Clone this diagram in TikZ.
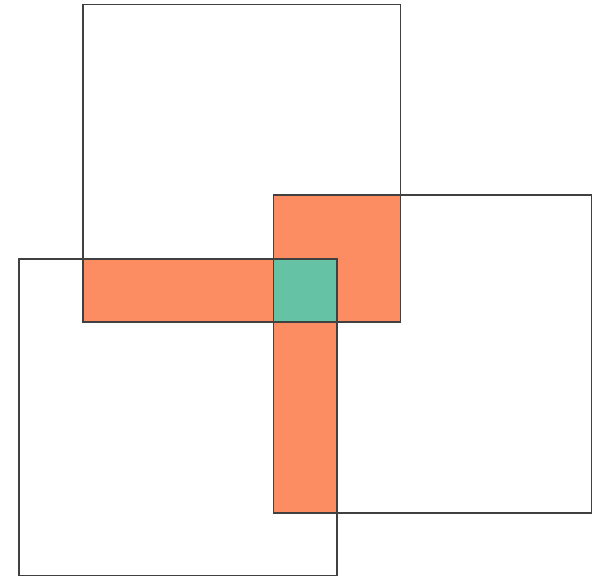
\documentclass[tikz,border=0pt]{standalone}
\definecolor{pairc}{HTML}{FC8D62}
\definecolor{triplec}{HTML}{66C2A5}
\begin{document}
\begin{tikzpicture}[x=1pt,y=-1pt,
  sq/.style={draw=black!75,line width=1.3pt},
  reg/.style={draw=black!85,line width=1.3pt}]
\useasboundingbox (0,0) rectangle (603,576);
% pairwise intersections
\fill[pairc] (83,259) rectangle (337,322);
\fill[pairc] (273.5,195) rectangle (400.5,322);
\fill[pairc] (273.5,259) rectangle (337,513);
\fill[triplec] (273.5,259) rectangle (337,322);
% region outlines
\draw[reg] (83,259) rectangle (337,322);
\draw[reg] (273.5,195) rectangle (400.5,322);
\draw[reg] (273.5,259) rectangle (337,513);
\draw[reg] (273.5,259) rectangle (337,322);
% squares
\draw[sq] (83,4.5) rectangle (400.5,322);
\draw[sq] (273.5,195) rectangle (591.5,513);
\draw[sq] (19,259) rectangle (337,575.5);
\end{tikzpicture}
\end{document}
